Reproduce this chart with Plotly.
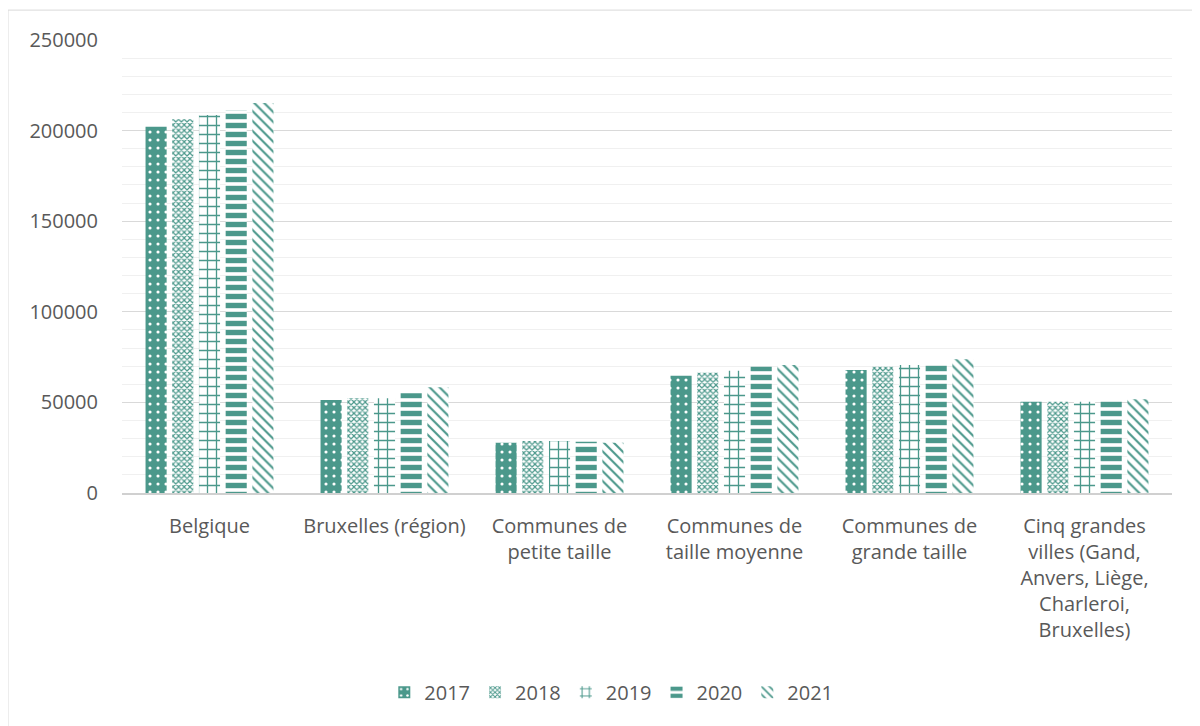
import plotly.graph_objects as go

categories = [
    "Belgique",
    "Bruxelles (région)",
    "Communes de<br>petite taille",
    "Communes de<br>taille moyenne",
    "Communes de<br>grande taille",
    "Cinq grandes<br>villes (Gand,<br>Anvers, Liège,<br>Charleroi,<br>Bruxelles)",
]
years = ["2017", "2018", "2019", "2020", "2021"]
v2017 = [202100, 51300, 27800, 64700, 67900, 50400]
v2018 = [206200, 52300, 28700, 66400, 69700, 50400]
v2019 = [208600, 52300, 28700, 67500, 70600, 50400]
v2020 = [211400, 55000, 28300, 69700, 71000, 50800]
v2021 = [215200, 58300, 27800, 70600, 73800, 51700]
series = [v2017, v2018, v2019, v2020, v2021]

TEAL = "#4B988B"
patterns = [
    dict(shape=".", bgcolor=TEAL, fgcolor="white", size=8, solidity=0.12, fillmode="replace"),
    dict(shape="x", bgcolor="white", fgcolor=TEAL, size=4, solidity=0.5, fillmode="replace"),
    dict(shape="+", bgcolor="white", fgcolor=TEAL, size=9, solidity=0.27, fillmode="replace"),
    dict(shape="-", bgcolor="white", fgcolor=TEAL, size=9, solidity=0.6, fillmode="replace"),
    dict(shape="\\", bgcolor="white", fgcolor=TEAL, size=7, solidity=0.3, fillmode="replace"),
]

fig = go.Figure()
for name, vals, pat in zip(years, series, patterns):
    fig.add_trace(go.Bar(
        name=name, x=categories, y=vals,
        marker=dict(color=TEAL, line=dict(width=0), pattern=pat),
    ))

FONT = "Open Sans"
fig.update_layout(
    width=1200, height=726,
    barmode="group", bargap=0.237, bargroupgap=0.21,
    plot_bgcolor="white", paper_bgcolor="white",
    font=dict(family=FONT, size=20, color="#595959"),
    margin=dict(l=114, r=36, t=32, b=241),
    legend=dict(orientation="h", x=0.466, xanchor="center", y=-0.44, yanchor="middle",
                font=dict(family=FONT, size=20, color="#595959"), traceorder="normal",
                itemwidth=30),
    showlegend=True,
)
fig.update_yaxes(
    range=[0, 250000], tickvals=[0, 50000, 100000, 150000, 200000, 250000],
    tickformat="d", showgrid=True, gridcolor="#D9D9D9", gridwidth=1,
    minor=dict(dtick=10000, showgrid=True, gridcolor="#F0F0F0", gridwidth=1),
    zeroline=False, showline=False, ticks="", ticklabelstandoff=23,
)
fig.update_xaxes(
    showline=True, linecolor="#D0D0D0", linewidth=2, ticks="",
    showgrid=False, ticklabelstandoff=14, tickangle=0,
)
fig.add_shape(type="rect", xref="paper", yref="paper",
              x0=-0.1086, x1=1.1, y0=-0.6, y1=1.066,
              line=dict(color="#D9D9D9", width=1), fillcolor="rgba(0,0,0,0)", layer="below")

fig.write_html("out.html")
